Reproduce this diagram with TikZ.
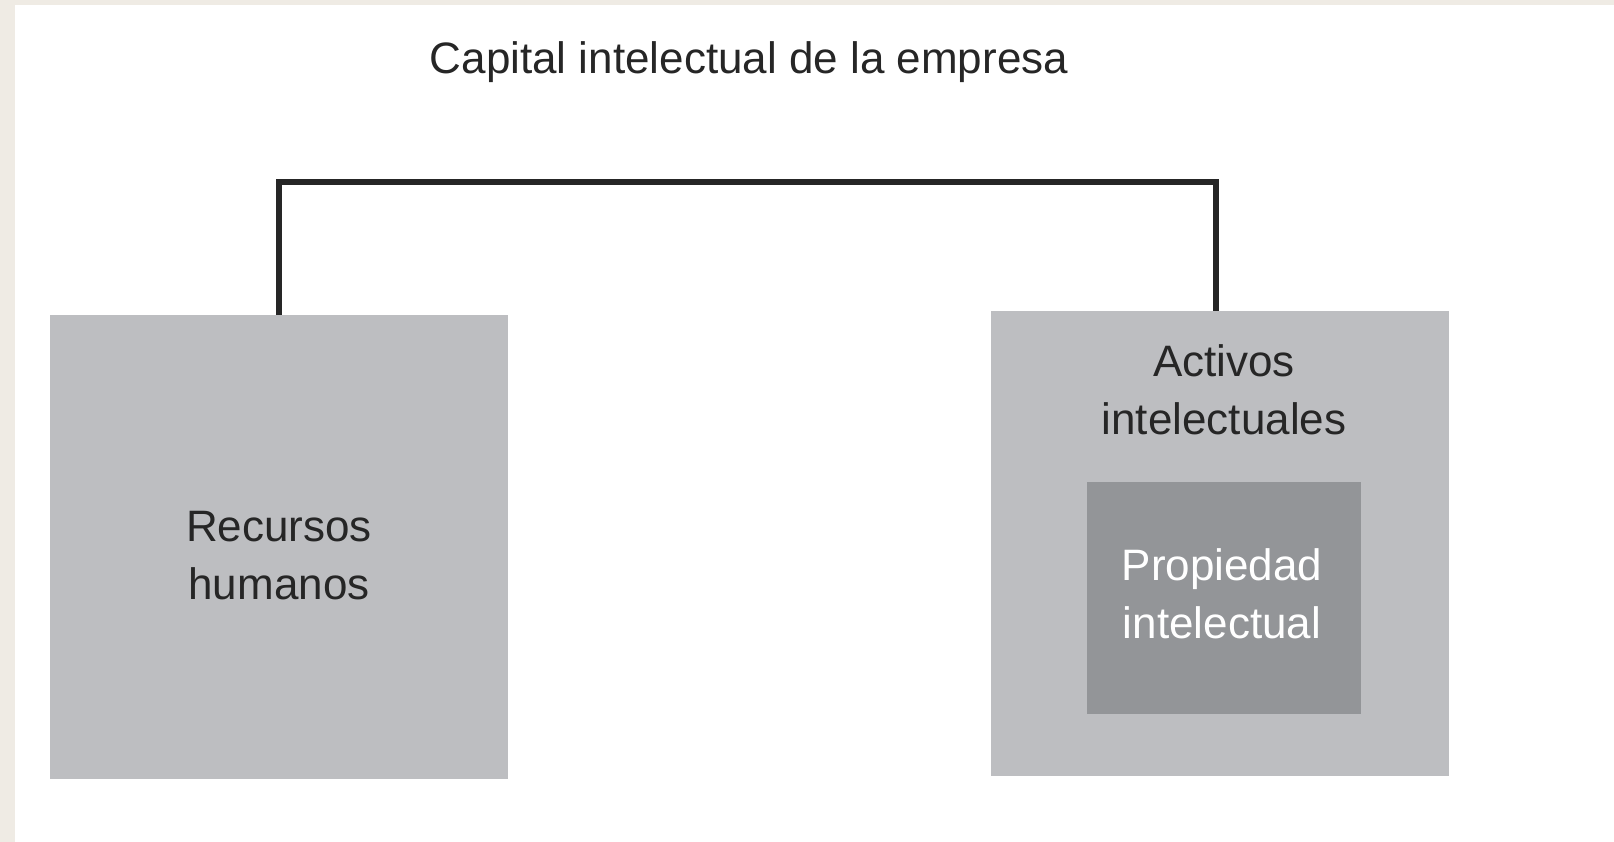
\documentclass[tikz,border=0pt]{standalone}
\usepackage{fontspec}
\setmainfont{Liberation Sans}
\definecolor{frame}{HTML}{EFEBE4}
\definecolor{boxgray}{HTML}{BDBEC1}
\definecolor{innergray}{HTML}{939598}
\definecolor{txt}{HTML}{262626}
\tikzset{
  bigbox/.style={fill=boxgray, draw=none, inner sep=0pt, minimum width=458pt, minimum height=464pt},
  innerbox/.style={fill=innergray, draw=none, inner sep=0pt, minimum width=274pt, minimum height=232pt},
  lbl/.style={font=\fontsize{44}{58}\selectfont, text=txt, align=center, inner sep=0pt},
  conn/.style={draw=txt, line width=5.5pt}
}
\begin{document}
\begin{tikzpicture}[x=1pt,y=-1pt]
\useasboundingbox (0,0) rectangle (1614,842);
\fill[frame] (0,0) rectangle (1614,842);
\fill[white] (15,5) rectangle (1614,842);
\node[lbl] (title) at (749,62) {Capital intelectual de la empresa};
\node[bigbox] (rh) at (279,547) {};
\node[lbl] (rhtxt) at (279,556) {Recursos\\humanos};
\node[bigbox, minimum height=465pt] (ai) at (1220,543.5) {};
\node[lbl] (aitxt) at (1224,390) {Activos\\intelectuales};
\node[innerbox] (pi) at (1224,598) {};
\node[lbl, text=white] (pitxt) at (1222,594) {Propiedad\\intelectual};
\coordinate (topline) at (0,182);
\draw[conn] (rh.north) -- (rh.north |- topline) -| ([xshift=-4pt]ai.north);
\end{tikzpicture}
\end{document}
